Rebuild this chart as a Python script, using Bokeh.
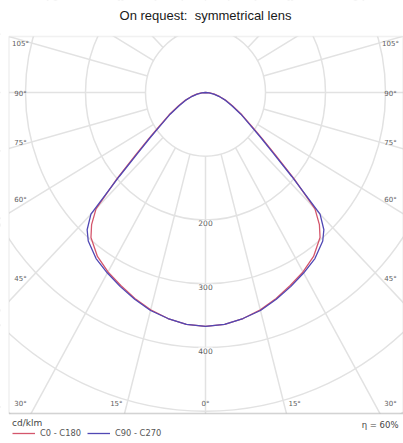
import numpy as np
from bokeh.plotting import figure
from bokeh.models import BoxAnnotation, Label, Legend, LegendItem
from bokeh.embed import file_html
from bokeh.resources import INLINE

# ---------------- data ----------------
title_text = "On request:\u00a0 symmetrical lens"
unit_text = "cd/klm"
eta_text = "\u03b7 = 60%"
series_names = ["C0 - C180", "C90 - C270"]

gamma_deg = [0, 5, 10, 15, 20, 25, 30, 35, 40, 42.5, 45, 47.5, 50, 52.5, 55, 60, 65, 70, 75, 80, 85, 90]
c0_c180 = [367, 365, 360, 353, 344, 334, 325, 314, 297, 281, 258, 200, 152, 120, 97, 70, 50, 36, 24, 15, 7, 0]
c90_c270 = [367, 365, 360, 354, 345, 336, 327, 318, 304, 292, 270, 195, 146, 116, 94, 68, 48, 35, 23, 14, 6, 0]

ring_values = [100, 200, 300, 400, 500, 600, 700]
ring_label_values = [200, 300, 400]
ring_labels = ["200", "300", "400"]
angle_ticks = [0, 15, 30, 45, 60, 75, 90, 105]
angle_tick_labels = ["0\u00b0", "15\u00b0", "30\u00b0", "45\u00b0", "60\u00b0", "75\u00b0", "90\u00b0", "105\u00b0"]

# ---------------- layout (picture pixel coordinates) ----------------
W, H = 403, 443
CXP, CYP = 205.0, 92.0          # picture position of polar centre
SX, SY = 0.6, 0.6375            # px per cd/klm (horizontal, vertical)
BOX_L, BOX_R, BOX_T, BOX_B = 8.5, 402.5, 36.0, 413.0


def dx(px):
    return (px - CXP) / SX


def dy(py):
    return (CYP - py) / SY


GRID = "#e2e2e2"
RED = "#d4566c"
BLUE = "#5048b4"
LABEL_COLOR = "#5e5e5e"
SMALL_FONT = "DejaVu Sans"

p = figure(width=W, height=H, x_range=(dx(0), dx(W)), y_range=(dy(H), dy(0)),
           output_backend="svg", toolbar_location=None, min_border=0,
           x_axis_location=None, y_axis_location=None)
p.grid.visible = False
p.outline_line_color = None
p.background_fill_color = "white"
p.border_fill_color = "white"

# rings
rv = np.array(ring_values, dtype=float)
p.ellipse(x=np.zeros_like(rv), y=np.zeros_like(rv), width=2 * rv, height=2 * rv,
          fill_color=None, line_color=GRID, line_width=1.5)

# radial lines every 15 deg from ring 100 outward
a = np.radians(np.arange(0, 360, 15))
r0, r1 = ring_values[0], 1000
p.segment(x0=r0 * np.sin(a), y0=-r0 * np.cos(a), x1=r1 * np.sin(a), y1=-r1 * np.cos(a),
          line_color=GRID, line_width=1.5)


def polar_curve(vals):
    g = np.radians(np.array(gamma_deg, dtype=float))
    r = np.array(vals, dtype=float)
    xl, yl = -r[::-1] * np.sin(g[::-1]), -r[::-1] * np.cos(g[::-1])
    xr, yr = r[1:] * np.sin(g[1:]), -r[1:] * np.cos(g[1:])
    return np.concatenate([xl, xr]), np.concatenate([yl, yr])


x1, y1 = polar_curve(c0_c180)
x2, y2 = polar_curve(c90_c270)
r_red = p.line(x1, y1, line_color=RED, line_width=1.3)
r_blue = p.line(x2, y2, line_color=BLUE, line_width=1.3)

# masks outside the visible box
p.add_layout(BoxAnnotation(bottom=dy(BOX_T), fill_color="white", fill_alpha=1, line_alpha=0))
p.add_layout(BoxAnnotation(top=dy(BOX_B), fill_color="white", fill_alpha=1, line_alpha=0))
p.add_layout(BoxAnnotation(right=dx(BOX_L), fill_color="white", fill_alpha=1, line_alpha=0))
# visible box
p.add_layout(BoxAnnotation(left=dx(BOX_L), right=dx(BOX_R), top=dy(BOX_T), bottom=dy(BOX_B),
                           fill_alpha=0, line_color="#d2d2d2", line_width=1.6))
p.add_layout(BoxAnnotation(left=dx(BOX_L), right=dx(BOX_R), top=dy(BOX_B), bottom=dy(BOX_B),
                           fill_alpha=0, line_color="#8e8e8e", line_width=1.6))

# ring labels
for val, txt in zip(ring_label_values, ring_labels):
    p.add_layout(Label(x=0, y=-val, y_offset=-3, text=txt, text_align="center", text_baseline="middle",
                       text_font=SMALL_FONT, text_font_size="7.5px", text_color=LABEL_COLOR,
                       background_fill_color="white"))

# angle labels along the box edges
HALF_W, BOTTOM_Y, K = 185.0, 403.0, 1.07
for ang, txt in zip(angle_ticks, angle_tick_labels):
    t = np.radians(ang)
    if ang >= 45:
        off_x = HALF_W
        py = CYP + HALF_W / np.tan(t) + 1
    else:
        off_x = min((BOTTOM_Y - CYP) * np.tan(t) * K, HALF_W)
        py = BOTTOM_Y
    sides = [1] if ang == 0 else [-1, 1]
    for s in sides:
        px = CXP + s * off_x
        p.add_layout(Label(x=dx(px), y=dy(py), text=txt, text_align="center", text_baseline="middle",
                           text_font=SMALL_FONT, text_font_size="7px", text_color=LABEL_COLOR))

# title
p.add_layout(Label(x=dx(205), y=dy(15), text=title_text, text_align="center", text_baseline="middle",
                   text_font="Liberation Sans", text_font_size="13px", text_color="#1a1a1a"))

# efficiency
p.add_layout(Label(x=dx(398), y=dy(424), text=eta_text, text_align="right", text_baseline="middle",
                   text_font=SMALL_FONT, text_font_size="8.5px", text_color="#444444"))

legend = Legend(items=[LegendItem(label=series_names[0], renderers=[r_red]),
                       LegendItem(label=series_names[1], renderers=[r_blue])],
                title=unit_text, orientation="horizontal", location=(12, 5))
legend.title_text_font = SMALL_FONT
legend.title_text_font_size = "9px"
legend.title_text_font_style = "normal"
legend.title_text_color = "#444444"
legend.title_standoff = 0
legend.label_text_font = SMALL_FONT
legend.label_text_font_size = "8.3px"
legend.label_text_color = "#555555"
legend.glyph_width = 23
legend.glyph_height = 8
legend.label_height = 8
legend.label_standoff = 5
legend.spacing = 6
legend.padding = 0
legend.margin = 0
legend.background_fill_alpha = 0
legend.border_line_alpha = 0
p.add_layout(legend)

open("out.html", "w").write(file_html(p, INLINE))
